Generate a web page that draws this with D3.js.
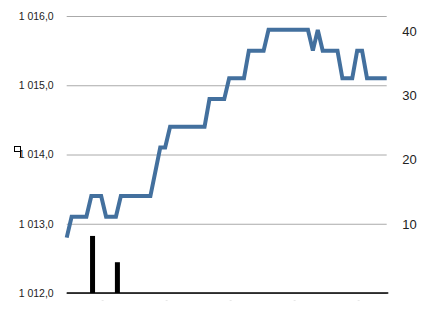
<!DOCTYPE html>
<html>
<head>
<meta charset="utf-8">
<script src="https://cdn.jsdelivr.net/npm/d3@7"></script>
<style>
  body { margin: 0; background: #fff; }
  text { font-family: "Liberation Sans", Arial, sans-serif; fill: #222; }
</style>
</head>
<body>
<script>
// pressure (hPa), one value per reading
const pressure = [
  1012.8,
  1013.1, 1013.1, 1013.1, 1013.1,
  1013.4, 1013.4, 1013.4,
  1013.1, 1013.1, 1013.1,
  1013.4, 1013.4, 1013.4, 1013.4, 1013.4, 1013.4, 1013.4,
  1013.75,
  1014.1, 1014.1,
  1014.4, 1014.4, 1014.4, 1014.4, 1014.4, 1014.4, 1014.4, 1014.4,
  1014.8, 1014.8, 1014.8, 1014.8,
  1015.1, 1015.1, 1015.1, 1015.1,
  1015.5, 1015.5, 1015.5, 1015.5,
  1015.8, 1015.8, 1015.8, 1015.8, 1015.8, 1015.8, 1015.8, 1015.8, 1015.8,
  1015.5,
  1015.8,
  1015.5, 1015.5, 1015.5, 1015.5,
  1015.1, 1015.1, 1015.1,
  1015.5, 1015.5,
  1015.1, 1015.1, 1015.1, 1015.1, 1015.1
]
// rain bars (right axis): reading index and amount
const rainAt = [5.25, 10.3]
const rain = [8.9, 4.8]

const leftTicks = [1012, 1013, 1014, 1015, 1016]
const rightTicks = [10, 20, 30, 40]
const xTickAt = [7.3, 20.3, 33.3, 46.3, 59.3]

const width = 430
const height = 309
const m = { left: 66.7, right: 386.7, top: 16, bottom: 293 }

const svg = d3.select('body')
  .append('svg')
  .attr('width', width)
  .attr('height', height)

const x = d3.scaleLinear()
  .domain([0, pressure.length - 1])
  .range([m.left, m.right])

const yL = d3.scaleLinear()
  .domain([1012, 1016])
  .range([m.bottom, m.top])

const yR = d3.scaleLinear()
  .domain([0, 43.2])
  .range([m.bottom, m.top])

const fr = d3.formatLocale({ decimal: ',', thousands: ' ', grouping: [3], currency: ['', ''] })
const fmt = fr.format(',.1f')

// left axis + grid
const gL = svg.append('g')
  .attr('transform', `translate(${m.left},0)`)
  .call(d3.axisLeft(yL)
    .tickValues(leftTicks)
    .tickFormat(fmt)
    .tickSize(-(m.right - m.left))
    .tickPadding(13))
gL.select('.domain').remove()
gL.selectAll('.tick line').attr('stroke', '#aaa')
gL.selectAll('.tick text')
  .style('font-size', '10.5px')
  .attr('fill', '#222')

// right axis
const gR = svg.append('g')
  .attr('transform', `translate(${m.right},0)`)
  .call(d3.axisRight(yR)
    .tickValues(rightTicks)
    .tickSize(0)
    .tickPadding(15.5))
gR.select('.domain').remove()
gR.selectAll('.tick text')
  .attr('dy', '-0.06em')
  .style('font-size', '13px')
  .attr('fill', '#222')

// rain bars
svg.append('g')
  .selectAll('rect')
  .data(rain)
  .enter()
  .append('rect')
  .attr('x', (d, i) => x(rainAt[i]) - 2.5)
  .attr('width', 5)
  .attr('y', d => yR(d))
  .attr('height', d => yR(0) - yR(d))
  .attr('fill', '#000')

// pressure line
const line = d3.line()
  .x((d, i) => x(i))
  .y(d => yL(d))

svg.append('path')
  .datum(pressure)
  .attr('d', line)
  .attr('fill', 'none')
  .attr('stroke', '#43709e')
  .attr('stroke-width', 4)
  .attr('stroke-linejoin', 'miter')

// baseline
svg.append('line')
  .attr('x1', m.left)
  .attr('x2', m.right + 1.6)
  .attr('y1', m.bottom)
  .attr('y2', m.bottom)
  .attr('stroke', '#000')
  .attr('stroke-width', 1.5)

// faint x tick marks
svg.append('g')
  .selectAll('line')
  .data(xTickAt)
  .enter()
  .append('line')
  .attr('x1', d => x(d) - 1)
  .attr('x2', d => x(d) + 1)
  .attr('y1', 300.5)
  .attr('y2', 300.5)
  .attr('stroke', '#e8e8e8')

// small box marker left of the axis
svg.append('rect')
  .attr('x', 14.5)
  .attr('y', 146.5)
  .attr('width', 6)
  .attr('height', 5)
  .attr('fill', 'none')
  .attr('stroke', '#000')
  .attr('stroke-width', 1)
svg.append('line')
  .attr('x1', 20.5)
  .attr('x2', 20.5)
  .attr('y1', 151)
  .attr('y2', 157)
  .attr('stroke', '#000')
  .attr('stroke-width', 1)
</script>
</body>
</html>
